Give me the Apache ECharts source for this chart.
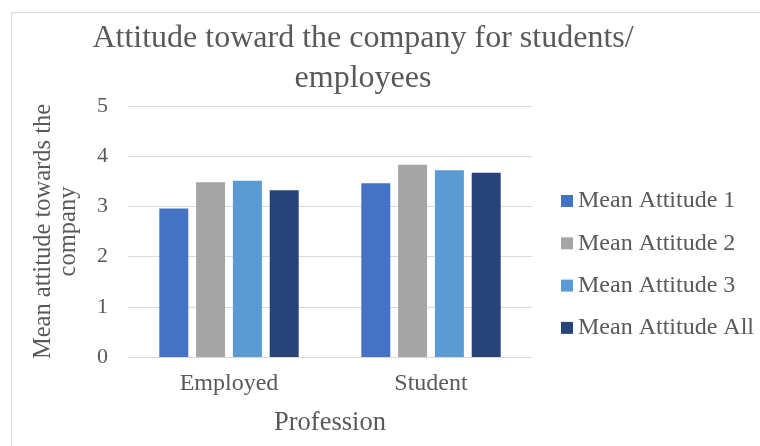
<!DOCTYPE html>
<html>
<head>
<meta charset="utf-8">
<style>
  html, body { margin: 0; padding: 0; background: #ffffff; }
  #chart { width: 760px; height: 446px; }
</style>
<script src="https://cdn.jsdelivr.net/npm/echarts@6/dist/echarts.min.js"></script>
</head>
<body>
<div id="chart"></div>
<script>
// Categories and mean attitude scores per group
const categories = ['Employed', 'Student'];
const seriesNames = ['Mean Attitude 1', 'Mean Attitude 2', 'Mean Attitude 3', 'Mean Attitude All'];
const attitude1 = [2.96, 3.46];
const attitude2 = [3.48, 3.83];
const attitude3 = [3.51, 3.72];
const attitudeAll = [3.32, 3.67];
const yTicks = [0, 1, 2, 3, 4, 5];
const titleLines = ['Attitude toward the company for students/', 'employees'];

const seriesData = [attitude1, attitude2, attitude3, attitudeAll];
const colors = ['#4472C4', '#A5A5A5', '#5B9BD5', '#264478'];
const font = '"Liberation Serif", "Times New Roman", serif';
const textColor = '#595959';

const chart = echarts.init(document.getElementById('chart'), null, { renderer: 'canvas' });

// Two-line centred title
const titleGraphics = titleLines.map((line, i) => ({
  type: 'text',
  x: 363,
  y: 38.5 + i * 40,
  silent: true,
  style: {
    text: line,
    x: 0,
    y: 0,
    align: 'center',
    verticalAlign: 'middle',
    font: '32px ' + font,
    fill: textColor
  }
}));

chart.setOption({
  animation: false,
  backgroundColor: '#ffffff',
  color: colors,
  graphic: [{
    type: 'rect',
    shape: { x: 11.5, y: 12.5, width: 800, height: 500 },
    style: { fill: 'none', stroke: '#D9D9D9', lineWidth: 1 },
    silent: true,
    z: -1
  }].concat(titleGraphics),
  legend: {
    orient: 'vertical',
    left: 561,
    top: 189,
    padding: 0,
    itemWidth: 12,
    itemHeight: 12,
    itemGap: 18.3,
    icon: 'rect',
    data: seriesNames,
    textStyle: {
      fontFamily: font,
      fontSize: 24,
      color: textColor
    }
  },
  grid: {
    left: 128,
    right: 228,
    top: 106,
    bottom: 89
  },
  xAxis: {
    type: 'category',
    data: categories,
    name: 'Profession',
    nameLocation: 'middle',
    nameGap: 53,
    nameTextStyle: { fontFamily: font, fontSize: 26.5, color: textColor },
    axisLine: { show: true, lineStyle: { color: '#D9D9D9', width: 1 } },
    axisTick: { show: false },
    axisLabel: { fontFamily: font, fontSize: 24, color: textColor, margin: 15 }
  },
  yAxis: {
    type: 'value',
    min: yTicks[0],
    max: yTicks[yTicks.length - 1],
    interval: 1,
    name: 'Mean attitude towards the\ncompany',
    nameLocation: 'middle',
    nameRotate: 90,
    nameGap: 47,
    nameTextStyle: { fontFamily: font, fontSize: 24.5, lineHeight: 25, color: textColor, align: 'center' },
    axisLine: { show: false },
    axisTick: { show: false },
    splitLine: { lineStyle: { color: '#D9D9D9', width: 1 } },
    axisLabel: { fontFamily: font, fontSize: 22, color: textColor, margin: 20 }
  },
  series: seriesNames.map((name, i) => ({
    name: name,
    type: 'bar',
    data: seriesData[i],
    barGap: '27%',
    barCategoryGap: '31%',
    itemStyle: { color: colors[i] }
  }))
});
</script>
</body>
</html>
